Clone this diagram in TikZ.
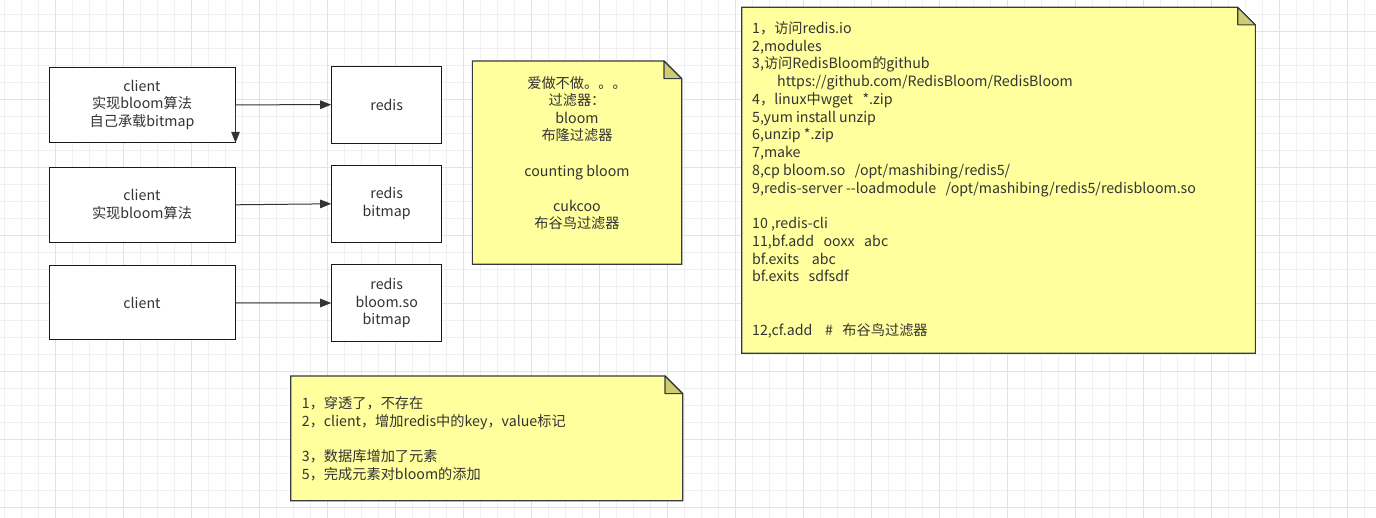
\documentclass[tikz,border=0pt]{standalone}
\usepackage{fontspec}
\setmainfont{Noto Sans CJK SC}
\usetikzlibrary{arrows.meta}

\definecolor{gridminor}{HTML}{F0F0F0}
\definecolor{gridmajor}{HTML}{E2E2E2}
\definecolor{notefill}{HTML}{FFFF9E}
\definecolor{notefold}{HTML}{CDCD70}
\definecolor{notedraw}{HTML}{36393D}
\definecolor{inktext}{HTML}{333333}

\tikzset{
  every node/.style={text=inktext, font=\fontsize{14.2}{17.75}\selectfont},
  box/.style={draw=black!90, line width=1pt, fill=white, align=center, inner sep=0},
  note/.style={draw=notedraw, line width=1.1pt, fill=notefill},
  fold/.style={draw=notedraw, line width=1.1pt, fill=notefold, line join=round},
  notetext/.style={inner sep=0, align=left, anchor=north west},
  conn/.style={draw=black!80, line width=1pt, -{Triangle[length=11pt,width=8.5pt]}},
}

\begin{document}
\begin{tikzpicture}[x=1pt,y=-1pt]
\fill[white] (0,0) rectangle (1376,518);
\useasboundingbox (0,0) rectangle (1376,518);
% grid
\foreach \k in {0,...,80} \draw[gridminor, line width=0.8pt] (4+17*\k,0) -- (4+17*\k,518);
\foreach \k in {0,...,29} \draw[gridminor, line width=0.8pt] (0,14.3+17*\k) -- (1376,14.3+17*\k);
\foreach \k in {0,...,19} \draw[gridmajor, line width=0.8pt] (55+68*\k,0) -- (55+68*\k,518);
\foreach \k in {0,...,7} \draw[gridmajor, line width=0.8pt] (0,31.3+68*\k) -- (1376,31.3+68*\k);

% clients and redis
\node[box, minimum width=186pt, minimum height=75pt] (c1) at (142,104.8) {client\\实现bloom算法\\自己承载bitmap};
\node[box, minimum width=110pt, minimum height=77pt] (r1) at (386.7,104.7) {redis};
\node[box, minimum width=186pt, minimum height=75pt] (c2) at (142,204.8) {client\\实现bloom算法};
\node[box, minimum width=110pt, minimum height=77pt] (r2) at (386.7,203.8) {redis\\bitmap};
\node[box, minimum width=186pt, minimum height=74pt] (c3) at (142,302.9) {client};
\node[box, minimum width=110pt, minimum height=77pt] (r3) at (386.7,303) {redis\\bloom.so\\bitmap};

\draw[conn] (c1.east) -- (r1.west);
\draw[conn] (c1.east) -- (c1.south east);
\draw[conn] (c2.east) -- (r2.west);
\draw[conn] (c3.east) -- (r3.west);

% note in the middle
\draw[note] (472.3,61) -- (664,61) -- (681.7,78.7) -- (681.7,264.3) -- (472.3,264.3) -- cycle;
\draw[fold] (664,61) -- (664,78.7) -- (681.7,78.7) -- cycle;
\node[inner sep=0, align=center, anchor=north, font=\fontsize{14.2}{17.6}\selectfont] (kinds) at (577,76)
  {爱做不做。。。\\过滤器：\\bloom\\布隆过滤器\\[17.6pt]counting bloom\\[17.6pt]cukcoo\\布谷鸟过滤器};

% steps note
\draw[note] (741.7,7.3) -- (1237.7,7.3) -- (1255.3,24.9) -- (1255.3,353.3) -- (741.7,353.3) -- cycle;
\draw[fold] (1237.7,7.3) -- (1237.7,24.9) -- (1255.3,24.9) -- cycle;
\node[notetext] (steps) at (752,21.3)
  {1，访问redis.io\\
   2,modules\\
   3,访问RedisBloom的github\\
   \hspace*{25pt}https://github.com/RedisBloom/RedisBloom\\
   4，linux中wget\ \ \ *.zip\\
   5,yum install unzip\\
   6,unzip *.zip\\
   7,make\\
   8,cp bloom.so\ \ \ /opt/mashibing/redis5/\\
   9,redis-server -{}-loadmodule\ \ \ /opt/mashibing/redis5/redisbloom.so\\[17.75pt]
   10 ,redis-cli\\
   11,bf.add\ \ \ ooxx\ \ \ abc\\
   bf.exits\ \ \ \ abc\\
   bf.exits\ \ \ sdfsdf\\[35.5pt]
   12,cf.add\ \ \ \ \#\ \ \ 布谷鸟过滤器};

% note at the bottom
\draw[note] (290.7,376) -- (665,376) -- (682.7,393.7) -- (682.7,500.7) -- (290.7,500.7) -- cycle;
\draw[fold] (665,376) -- (665,393.7) -- (682.7,393.7) -- cycle;
\node[notetext] (flow) at (301.7,396.3)
  {1，穿透了，不存在\\
   2，client，增加redis中的key，value标记\\[17.75pt]
   3，数据库增加了元素\\
   5，完成元素对bloom的添加};
\end{tikzpicture}
\end{document}
